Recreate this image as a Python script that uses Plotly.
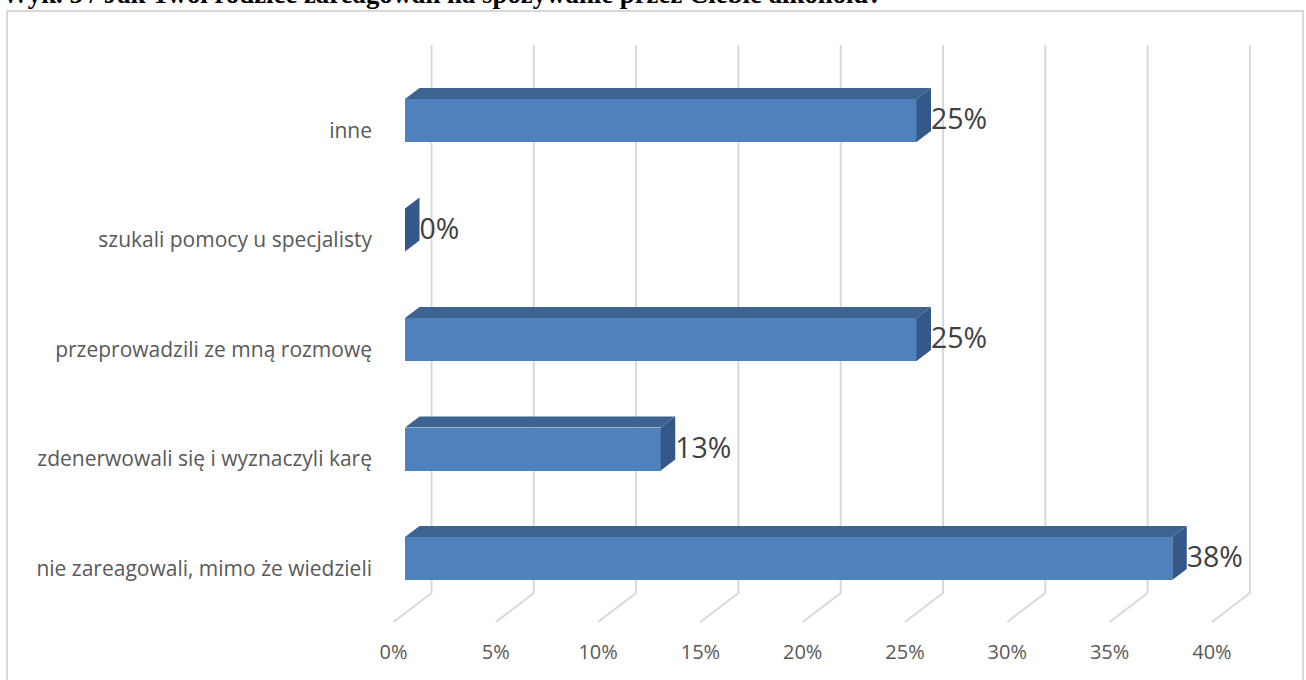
import plotly.graph_objects as go

# ---------------- data ----------------
categories = [
    "nie zareagowali, mimo że wiedzieli",
    "zdenerwowali się i wyznaczyli karę",
    "przeprowadzili ze mną rozmowę",
    "szukali pomocy u specjalisty",
    "inne",
]
values = [37.5, 12.5, 25.0, 0.0, 25.0]
x_ticks = [0, 5, 10, 15, 20, 25, 30, 35, 40]
x_tick_labels = ["0%", "5%", "10%", "15%", "20%", "25%", "30%", "35%", "40%"]
title_text = "Wyk. 5 / Jak Twoi rodzice zareagowali na spożywanie przez Ciebie alkoholu?"


def pct_label(v):
    return f"{int(v + 0.5)}%"


# ---------------- geometry (style) ----------------
W, H = 1306, 680
PX_PER_UNIT_X = 20.46          # pixels per 1 %
PX_PER_CAT = 109.5             # pixels per category step
X0_PX = 405.0                  # pixel of 0 % on bar front plane
Y0_PX = 558.5                  # pixel of first category centre
PLOT_L, PLOT_R, PLOT_T, PLOT_B = 380, 1290, 30, 635

def xu(px):  # pixel -> x data
    return (px - X0_PX) / PX_PER_UNIT_X

def yu(py):  # pixel -> y data
    return (Y0_PX - py) / PX_PER_CAT

DX = 14.5 / PX_PER_UNIT_X      # depth of a bar (x)
DY = 11.0 / PX_PER_CAT         # depth of a bar (y)
HALF = 21.5 / PX_PER_CAT       # half bar thickness
BACK_DX = 26.5 / PX_PER_UNIT_X
FRONT_DX = -11.5 / PX_PER_UNIT_X
FLOOR_DY = 29.0 / PX_PER_CAT

FRONT_C = "#4F81BD"
TOP_C = "#3D6391"
SIDE_C = "#34588A"
GRID_C = "#D9D9D9"

idx = list(range(len(categories)))

fig = go.Figure()

# front faces
fig.add_trace(go.Bar(
    y=idx, x=values, base=0, orientation="h", width=2 * HALF,
    marker=dict(color=FRONT_C, line=dict(width=0)),
    hoverinfo="skip", showlegend=False,
))

# top and side faces
for i, v in zip(idx, values):
    yt = i + HALF
    yb = i - HALF
    if v > 0:
        fig.add_trace(go.Scatter(
            x=[0, v, v + DX, DX, 0], y=[yt, yt, yt + DY, yt + DY, yt],
            fill="toself", fillcolor=TOP_C, mode="lines", line=dict(width=0),
            hoverinfo="skip", showlegend=False,
        ))
    fig.add_trace(go.Scatter(
        x=[v, v + DX, v + DX, v, v], y=[yb, yb + DY, yt + DY, yt, yb],
        fill="toself", fillcolor=SIDE_C, mode="lines", line=dict(width=0),
        hoverinfo="skip", showlegend=False,
    ))

# data labels
fig.add_trace(go.Scatter(
    x=[v + DX for v in values], y=[i - 1.5 / PX_PER_CAT for i in idx],
    text=[pct_label(v) for v in values], mode="text", textposition="middle right",
    textfont=dict(family="Open Sans", size=28.5, color="#404040"),
    hoverinfo="skip", showlegend=False,
))

# gridlines (back wall + floor)
y_top = yu(45)
y_back_bottom = yu(593)
for t in x_ticks:
    xb = t + BACK_DX
    xf = t + FRONT_DX
    fig.add_shape(type="path", layer="below",
                  path=f"M {xb},{y_top} L {xb},{y_back_bottom} L {xf},{y_back_bottom - FLOOR_DY}",
                  xref="x", yref="y", line=dict(color=GRID_C, width=2))

# frame
fig.add_shape(type="rect", xref="paper", yref="paper",
              x0=7 / W, x1=1303 / W, y0=-0.05, y1=1 - 11 / H,
              line=dict(color=GRID_C, width=2), fillcolor="rgba(0,0,0,0)", layer="below")

# title (partly cut at the top)
fig.add_annotation(text=f"<b>{title_text}</b>", xref="paper", yref="paper",
                   x=0, y=1 + 6.5 / H, xanchor="left", yanchor="middle", showarrow=False,
                   font=dict(family="Liberation Serif", size=26.8, color="#000000"))

fig.update_layout(
    width=W, height=H, margin=dict(l=0, r=0, t=0, b=0),
    paper_bgcolor="white", plot_bgcolor="rgba(0,0,0,0)",
    bargap=0,
    xaxis=dict(domain=[PLOT_L / W, PLOT_R / W], range=[xu(PLOT_L), xu(PLOT_R)],
               tickmode="array", tickvals=[t + FRONT_DX for t in x_ticks], ticktext=x_tick_labels,
               showgrid=False, zeroline=False, showline=False, ticks="",
               tickfont=dict(family="Open Sans", size=20, color="#595959"),
               ticklabelstandoff=3),
    yaxis=dict(domain=[1 - PLOT_B / H, 1 - PLOT_T / H], range=[yu(PLOT_B), yu(PLOT_T)],
               tickmode="array", tickvals=[i - 10 / PX_PER_CAT for i in idx], ticktext=categories,
               showgrid=False, zeroline=False, showline=False, ticks="",
               tickfont=dict(family="Open Sans", size=21, color="#595959"),
               ticklabelstandoff=7),
)

fig.write_html("out.html", config={"displayModeBar": False},
               post_script="document.body.style.margin='0';")
